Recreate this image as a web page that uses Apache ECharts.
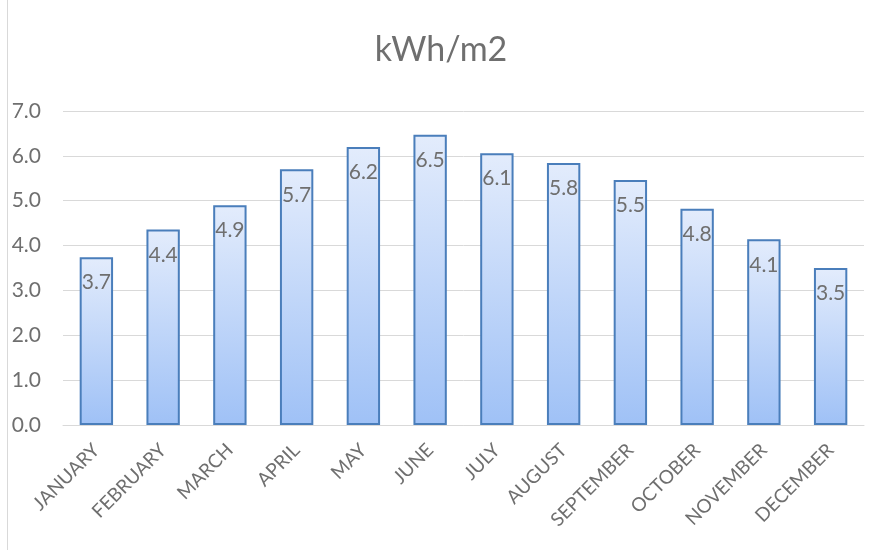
<!DOCTYPE html>
<html>
<head>
<meta charset="utf-8">
<script src="https://cdn.jsdelivr.net/npm/echarts@6/dist/echarts.min.js"></script>
<style>
  html, body { margin: 0; padding: 0; background: #fff; }
  #main { position: absolute; left: 7px; top: 0; width: 866px; height: 550px; border-left: 1px solid #d9d9d9; }
</style>
</head>
<body>
<div id="main"></div>
<script>
// monthly values (kWh/m2)
const months = ["JANUARY", "FEBRUARY", "MARCH", "APRIL", "MAY", "JUNE", "JULY",
  "AUGUST", "SEPTEMBER", "OCTOBER", "NOVEMBER", "DECEMBER"];
const kwh = [3.74, 4.36, 4.9, 5.7, 6.2, 6.47, 6.06, 5.84, 5.46, 4.82, 4.14, 3.5];
const yMax = 7;
const yStep = 1;

const font = "Lato, 'Open Sans', sans-serif";
const grey = "#6f6f6f";

let myChart = echarts.init(document.getElementById("main"));

let option = {
  animation: false,
  title: {
    text: "kWh/m2",
    left: "center",
    top: 28,
    textStyle: { fontFamily: font, fontSize: 34, fontWeight: "normal", color: grey }
  },
  grid: { left: 55, right: 10, top: 111, bottom: 125 },
  xAxis: {
    type: "category",
    data: months,
    axisLine: { lineStyle: { color: "#d9d9d9", width: 1 } },
    axisTick: { show: false },
    axisLabel: {
      rotate: 45,
      interval: 0,
      margin: 22,
      fontFamily: font,
      fontSize: 19,
      color: grey
    }
  },
  yAxis: {
    type: "value",
    min: 0,
    max: yMax,
    interval: yStep,
    axisLine: { show: false },
    axisTick: { show: false },
    splitLine: { lineStyle: { color: "#d9d9d9", width: 1 } },
    axisLabel: {
      formatter: v => v.toFixed(1),
      margin: 22,
      fontFamily: font,
      fontSize: 21,
      color: grey
    }
  },
  series: [
    {
      type: "bar",
      data: kwh,
      barWidth: "50%",
      itemStyle: {
        color: new echarts.graphic.LinearGradient(0, 0, 0, 1, [
          { offset: 0, color: "#e3ecfc" },
          { offset: 1, color: "#9fc1f6" }
        ]),
        borderColor: "#4a7ebb",
        borderWidth: 2
      },
      label: {
        show: true,
        position: "insideTop",
        distance: 15,
        formatter: p => p.value.toFixed(1),
        fontFamily: font,
        fontSize: 21,
        color: grey
      }
    }
  ]
};

myChart.setOption(option);
</script>
</body>
</html>
